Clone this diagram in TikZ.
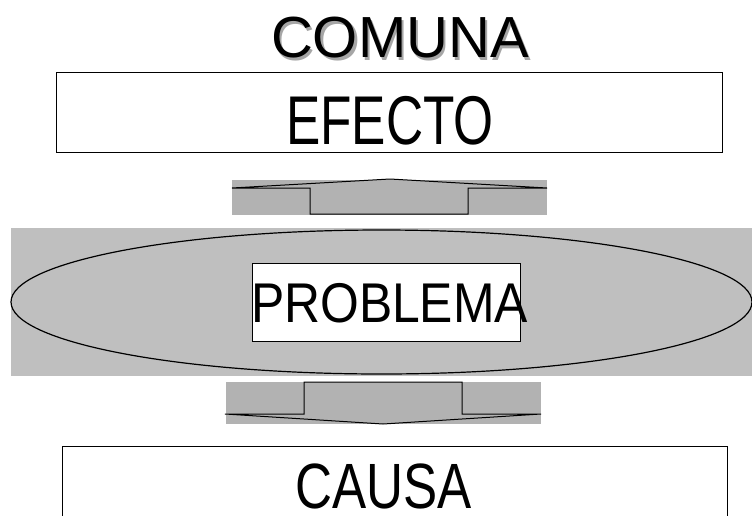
\documentclass[tikz,border=0pt]{standalone}
\usepackage{graphicx}
\usepackage{fontspec}
\setmainfont{Liberation Sans}
\usetikzlibrary{shapes}
\colorlet{bggray}{black!25}
\colorlet{arrgray}{black!30}
\colorlet{shadowgray}{black!35}
% size, horizontal squeeze, text
\newcommand{\bigtext}[3]{\scalebox{#2}[1]{\fontsize{#1}{#1}\selectfont #3}}

\begin{document}
\begin{tikzpicture}[x=1pt,y=-1pt]
\def\lw{1pt}
\useasboundingbox (0,0) rectangle (752,515);
  % title with its shadow
  \node[shadowgray] (comunashadow) at (402.5,40.5) {\bigtext{58}{1}{COMUNA}};
  \node (comuna) at (400,38) {\bigtext{58}{1}{COMUNA}};
  % boxes
  \draw[line width=\lw]
        (56,72)   rectangle (722,152)
        (62,446)  rectangle (727,540);
  \node (efecto) at (390,121) {\bigtext{69}{0.745}{EFECTO}};
  \node (causa)  at (383.5,486) {\bigtext{64}{0.8}{CAUSA}};
  % up arrow
  \fill[arrgray] (232,180) rectangle (547,215);
  \draw[line width=\lw,fill=arrgray]
        (232,188) -- (390,179) -- (547,188) -- (468,188)
        -- (468,214) -- (310,214) -- (310,188) -- cycle;
  % problem in the middle
  \fill[bggray] (11,228) rectangle (752,376);
  \draw[line width=1.2pt,fill=bggray] (381.5,302) ellipse (370.5 and 72);
  \draw[line width=\lw,fill=white] (252,263) rectangle (520,341);
  \node (problema) at (389.5,303) {\bigtext{56}{0.89}{PROBLEMA}};
  % down arrow
  \fill[arrgray] (226,382) rectangle (541,424);
  \draw[line width=\lw,fill=arrgray]
        (304,382) -- (462,382) -- (462,414) -- (541,414)
        -- (383,424) -- (225,414) -- (304,414) -- cycle;
\end{tikzpicture}
\end{document}
